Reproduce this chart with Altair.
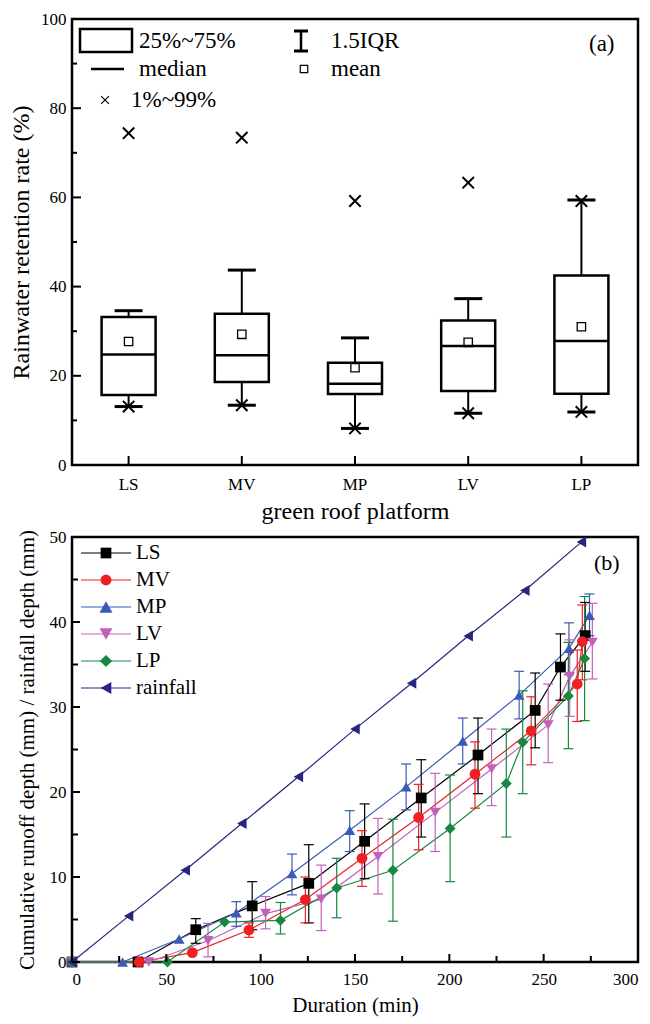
import altair as alt
import pandas as pd

FONT = "Liberation Serif"

# ---------------- Panel (a) data ----------------
platforms = ["LS", "MV", "MP", "LV", "LP"]
q1 = [15.7, 18.6, 15.9, 16.6, 16.0]
q3 = [33.2, 33.9, 22.9, 32.4, 42.5]
median = [24.8, 24.6, 18.2, 26.7, 27.8]
mean = [27.7, 29.3, 21.8, 27.5, 31.0]
whisk_lo = [13.1, 13.4, 8.2, 11.6, 11.9]
whisk_hi = [34.6, 43.7, 28.5, 37.3, 59.4]
p01 = [13.1, 13.4, 8.2, 11.6, 11.9]
p99 = [74.4, 73.4, 59.2, 63.3, 59.2]
a_major = [0, 20, 40, 60, 80, 100]
a_minor = [10, 30, 50, 70, 90]

# ---------------- Panel (b) data ----------------
names = ["LS", "MV", "MP", "LV", "LP", "rainfall"]
colors = ["#000000", "#ee2024", "#3b5bb5", "#c261b9", "#16883f", "#262680"]
shapes = ["square", "circle", "triangle-up", "triangle-down", "diamond", "triangle-left"]
sizes = [115, 120, 170, 170, 150, 150]

ls_t = [0, 35, 65.6, 95.5, 125.5, 155.1, 185.1, 215.2, 245.5, 258.9, 272.0]
ls_v = [0, 0, 3.8, 6.6, 9.25, 14.2, 19.3, 24.35, 29.6, 34.7, 38.4]
ls_lo = [None, None, 2.2, 3.8, 4.6, 9.8, 14.7, 19.8, 25.2, 30.8, 34.2]
ls_hi = [None, None, 5.1, 9.45, 13.8, 18.6, 23.8, 28.7, 34.0, 38.6, 42.3]

mv_t = [0, 35.6, 63.8, 93.8, 123.7, 153.7, 183.7, 213.6, 243.4, 267.8, 270.5]
mv_v = [0, 0, 1.1, 3.76, 7.35, 12.2, 17.0, 22.1, 27.2, 32.7, 37.7]
mv_lo = [None, None, None, 2.9, 4.6, 8.9, 13.2, 18.1, 23.2, 28.3, 33.2]
mv_hi = [None, None, None, 4.6, 10.0, 15.45, 20.9, 25.9, 31.2, 36.7, 42.0]

mp_t = [0, 26.8, 56.8, 87.1, 116.6, 147.2, 177.1, 207.1, 237.0, 263.4, 274.3]
mp_v = [0, 0, 2.7, 5.8, 10.4, 15.5, 20.6, 26.0, 31.4, 36.9, 40.8]
mp_lo = [None, None, None, 4.2, 7.9, 13.0, 17.9, 23.3, 28.6, 33.8, 38.4]
mp_hi = [None, None, None, 7.1, 12.7, 17.8, 23.3, 28.7, 34.2, 39.9, 43.3]

lv_t = [0, 40.7, 72.1, 102.6, 132.1, 162.2, 192.5, 222.4, 252.4, 263.8, 275.8]
lv_v = [0, 0, 2.5, 5.7, 7.4, 12.4, 17.6, 22.7, 27.9, 33.6, 37.6]
lv_lo = [None, None, 0.6, 3.9, 3.7, 8.0, 13.0, 18.4, 23.45, 28.9, 33.3]
lv_hi = [None, None, 4.55, 7.7, 11.4, 16.9, 22.2, 27.4, 32.7, 37.9, 42.2]

lp_t = [0, 50.6, 80.9, 110.5, 140.3, 170.1, 200.4, 230.2, 238.9, 263.1, 271.7]
lp_v = [0, 0, 4.7, 4.9, 8.7, 10.8, 15.7, 21.0, 25.85, 31.3, 35.7]
lp_lo = [None, None, None, 3.3, 5.2, 4.8, 9.45, 14.7, 19.8, 25.1, 28.4]
lp_hi = [None, None, None, 7.0, 12.2, 16.8, 22.0, 27.4, 31.9, 37.6, 43.0]

rf_t = [0, 30, 60, 90, 120, 150, 180, 210, 240, 270]
rf_v = [0, 5.4, 10.8, 16.3, 21.8, 27.4, 32.8, 38.35, 43.7, 49.4]

b_major_x = [0, 50, 100, 150, 200, 250, 300]
b_minor_x = [25, 75, 125, 175, 225, 275]
b_major_y = [0, 10, 20, 30, 40, 50]
b_minor_y = [5, 15, 25, 35, 45]

W = 566
HA = 446
HB = 425

# ================= Panel (a) =================
box_df = pd.DataFrame(dict(p=platforms, q1=q1, q3=q3, med=median, mean=mean,
                           wlo=whisk_lo, whi=whisk_hi, p01=p01, p99=p99))

xa = alt.X("p:N", sort=platforms,
           scale=alt.Scale(domain=platforms, paddingInner=0, paddingOuter=0),
           axis=alt.Axis(title="green roof platform", labelAngle=0, ticks=False, domain=False,
                         labelPadding=11, titlePadding=7, labelFontSize=17, titleFontSize=24))
ya_scale = alt.Scale(domain=[0, 100], nice=False, zero=False)
ya = alt.Y("q3:Q", scale=ya_scale,
           axis=alt.Axis(title="Rainwater retention rate (%)", values=a_major, ticks=False,
                         domain=False, grid=False, labelPadding=6, titlePadding=7,
                         labelFontSize=17, titleFontSize=24))

base = alt.Chart(box_df)
whisk_up = base.mark_rule(strokeWidth=2, color="black").encode(x=xa, y=ya, y2="whi:Q")
whisk_dn = base.mark_rule(strokeWidth=2, color="black").encode(x=xa, y="wlo:Q", y2="q1:Q")
cap_hi = base.mark_tick(orient="horizontal", size=28, thickness=3, color="black", opacity=1).encode(x=xa, y="whi:Q")
cap_lo = base.mark_tick(orient="horizontal", size=28, thickness=3, color="black", opacity=1).encode(x=xa, y="wlo:Q")
box = base.mark_bar(size=54, fill="white", stroke="black", strokeWidth=2.5).encode(x=xa, y="q1:Q", y2="q3:Q")
med = base.mark_tick(orient="horizontal", size=54, thickness=2.5, color="black", opacity=1).encode(x=xa, y="med:Q")
mean_pt = base.mark_point(shape="square", size=70, filled=False, color="black", strokeWidth=1.3, opacity=1).encode(x=xa, y="mean:Q")
X_SHAPE = "M-1,-1L1,1M-1,1L1,-1"
x99 = base.mark_point(shape=X_SHAPE, size=130, filled=False, color="black", strokeWidth=2, opacity=1).encode(x=xa, y="p99:Q")
x01 = base.mark_point(shape=X_SHAPE, size=130, filled=False, color="black", strokeWidth=2, opacity=1).encode(x=xa, y="p01:Q")

tick_a_major = alt.Chart(pd.DataFrame({"v": a_major})).mark_rule(strokeWidth=2, color="black").encode(
    y=alt.Y("v:Q", scale=ya_scale), x=alt.value(0), x2=alt.value(9))
tick_a_minor = alt.Chart(pd.DataFrame({"v": a_minor})).mark_rule(strokeWidth=2, color="black").encode(
    y=alt.Y("v:Q", scale=ya_scale), x=alt.value(0), x2=alt.value(5))
tick_a_x = base.mark_rule(strokeWidth=2, color="black").encode(x=xa, y=alt.value(HA), y2=alt.value(HA - 9))

# legend for panel (a)
leg_a_labels = ["25%~75%", "1.5IQR", "median", "mean", "1%~99%", "(a)"]
one = pd.DataFrame({"k": [0]})
lc = alt.Chart(one)
leg_box = lc.mark_rect(fill="white", stroke="black", strokeWidth=2.5).encode(
    x=alt.value(8), x2=alt.value(60), y=alt.value(10), y2=alt.value(33))
leg_ibeam = lc.mark_rule(strokeWidth=2.5, color="black").encode(
    x=alt.value(229), y=alt.value(12), y2=alt.value(32))
leg_ibeam_t = lc.mark_rule(strokeWidth=3, color="black").encode(
    x=alt.value(222), x2=alt.value(236), y=alt.value(12))
leg_ibeam_b = lc.mark_rule(strokeWidth=3, color="black").encode(
    x=alt.value(222), x2=alt.value(236), y=alt.value(32))
leg_med = lc.mark_rule(strokeWidth=2.5, color="black").encode(
    x=alt.value(19), x2=alt.value(52), y=alt.value(50))
leg_mean = lc.mark_point(shape="square", size=55, filled=False, color="black", strokeWidth=1.2, opacity=1).encode(
    x=alt.value(232), y=alt.value(50))
leg_x = lc.mark_point(shape=X_SHAPE, size=60, filled=False, color="black", strokeWidth=1.2, opacity=1).encode(
    x=alt.value(33), y=alt.value(81))
txt_pos = [(67, 22), (259, 22), (67, 50), (259, 50), (59, 81), (517, 25)]
leg_txt = []
for lab, (px, py) in zip(leg_a_labels, txt_pos):
    leg_txt.append(alt.Chart(pd.DataFrame({"t": [lab]})).mark_text(
        align="left", baseline="middle", font=FONT, fontSize=23, color="black").encode(
        text="t:N", x=alt.value(px), y=alt.value(py)))

panel_a = alt.layer(whisk_up, whisk_dn, cap_hi, cap_lo, box, med, mean_pt, x99, x01,
                    tick_a_major, tick_a_minor, tick_a_x,
                    leg_box, leg_ibeam, leg_ibeam_t, leg_ibeam_b, leg_med, leg_mean, leg_x,
                    *leg_txt).properties(width=W, height=HA)

# ================= Panel (b) =================
series = {
    "LS": (ls_t, ls_v, ls_lo, ls_hi),
    "MV": (mv_t, mv_v, mv_lo, mv_hi),
    "MP": (mp_t, mp_v, mp_lo, mp_hi),
    "LV": (lv_t, lv_v, lv_lo, lv_hi),
    "LP": (lp_t, lp_v, lp_lo, lp_hi),
    "rainfall": (rf_t, rf_v, [None] * len(rf_t), [None] * len(rf_t)),
}
rows = []
for s, (ts, vs, los, his) in series.items():
    for t, v, lo, hi in zip(ts, vs, los, his):
        rows.append({"s": s, "t": t, "v": v, "lo": lo, "hi": hi})
dfb = pd.DataFrame(rows)
dfe = dfb.dropna(subset=["lo", "hi"])

xb_scale = alt.Scale(domain=[0, 300], nice=False, zero=False)
yb_scale = alt.Scale(domain=[0, 50], nice=False, zero=False)
xb = alt.X("t:Q", scale=xb_scale,
           axis=alt.Axis(title="Duration (min)", values=b_major_x, ticks=False, domain=False, grid=False,
                         labelPadding=9, titlePadding=7, labelFontSize=17, titleFontSize=21))
yb = alt.Y("v:Q", scale=yb_scale,
           axis=alt.Axis(title="Cumulative runoff depth (mm) / rainfall depth (mm)", values=b_major_y,
                         ticks=False, domain=False, grid=False, labelPadding=6, titlePadding=12,
                         labelFontSize=17, titleFontSize=21))
col = alt.Color("s:N", scale=alt.Scale(domain=names, range=colors), legend=None)
shp = alt.Shape("s:N", scale=alt.Scale(domain=names, range=shapes), legend=None)
siz = alt.Size("s:O", scale=alt.Scale(domain=names, range=sizes), legend=None)

lines = alt.Chart(dfb).mark_line(strokeWidth=1.2).encode(x=xb, y=yb, color=col, detail="s:N", order="t:Q")
err = alt.Chart(dfe).mark_rule(strokeWidth=1.2).encode(
    x=alt.X("t:Q", scale=xb_scale), y=alt.Y("lo:Q", scale=yb_scale), y2="hi:Q", color=col)
err_hi = alt.Chart(dfe).mark_tick(orient="horizontal", size=10, thickness=1.2, opacity=1).encode(
    x=alt.X("t:Q", scale=xb_scale), y=alt.Y("hi:Q", scale=yb_scale), color=col)
err_lo = alt.Chart(dfe).mark_tick(orient="horizontal", size=10, thickness=1.2, opacity=1).encode(
    x=alt.X("t:Q", scale=xb_scale), y=alt.Y("lo:Q", scale=yb_scale), color=col)
pts = alt.Chart(dfb).mark_point(filled=True, opacity=1).encode(
    x=alt.X("t:Q", scale=xb_scale), y=alt.Y("v:Q", scale=yb_scale), color=col, shape=shp, size=siz)

tick_bx_major = alt.Chart(pd.DataFrame({"t": b_major_x})).mark_rule(strokeWidth=2, color="black").encode(
    x=alt.X("t:Q", scale=xb_scale), y=alt.value(HB), y2=alt.value(HB - 8))
tick_bx_minor = alt.Chart(pd.DataFrame({"t": b_minor_x})).mark_rule(strokeWidth=2, color="black").encode(
    x=alt.X("t:Q", scale=xb_scale), y=alt.value(HB), y2=alt.value(HB - 6))
tick_by_major = alt.Chart(pd.DataFrame({"v": b_major_y})).mark_rule(strokeWidth=2, color="black").encode(
    y=alt.Y("v:Q", scale=yb_scale), x=alt.value(0), x2=alt.value(8))
tick_by_minor = alt.Chart(pd.DataFrame({"v": b_minor_y})).mark_rule(strokeWidth=2, color="black").encode(
    y=alt.Y("v:Q", scale=yb_scale), x=alt.value(0), x2=alt.value(6))

leg_b = []
for i, (nm, c, sh, sz) in enumerate(zip(names, colors, shapes, sizes)):
    yy = 16 + 27 * i
    d = alt.Chart(pd.DataFrame({"s": [nm]}))
    leg_b.append(d.mark_rule(strokeWidth=1.2, color=c).encode(x=alt.value(9), x2=alt.value(59), y=alt.value(yy)))
    leg_b.append(d.mark_point(shape=sh, size=sz, filled=True, color=c, opacity=1).encode(x=alt.value(34), y=alt.value(yy)))
    leg_b.append(d.mark_text(align="left", baseline="middle", font=FONT, fontSize=21, color="black").encode(
        text="s:N", x=alt.value(64), y=alt.value(yy)))
lab_b = alt.Chart(pd.DataFrame({"t": ["(b)"]})).mark_text(
    align="left", baseline="middle", font=FONT, fontSize=22, color="black").encode(
    text="t:N", x=alt.value(522), y=alt.value(26))

panel_b = alt.layer(lines, err, err_hi, err_lo, pts,
                    tick_bx_major, tick_bx_minor, tick_by_major, tick_by_minor,
                    *leg_b, lab_b).properties(width=W, height=HB)

chart = alt.vconcat(panel_a, panel_b, spacing=1).properties(
    padding={"left": 0, "top": 0, "right": 0, "bottom": 0}
).configure_view(stroke="black", strokeWidth=2.5).configure_axis(
    labelFont=FONT, titleFont=FONT, labelColor="black", titleColor="black", titleFontWeight="normal"
)

chart.save("out.html", embed_options={"renderer": "svg", "actions": False})
